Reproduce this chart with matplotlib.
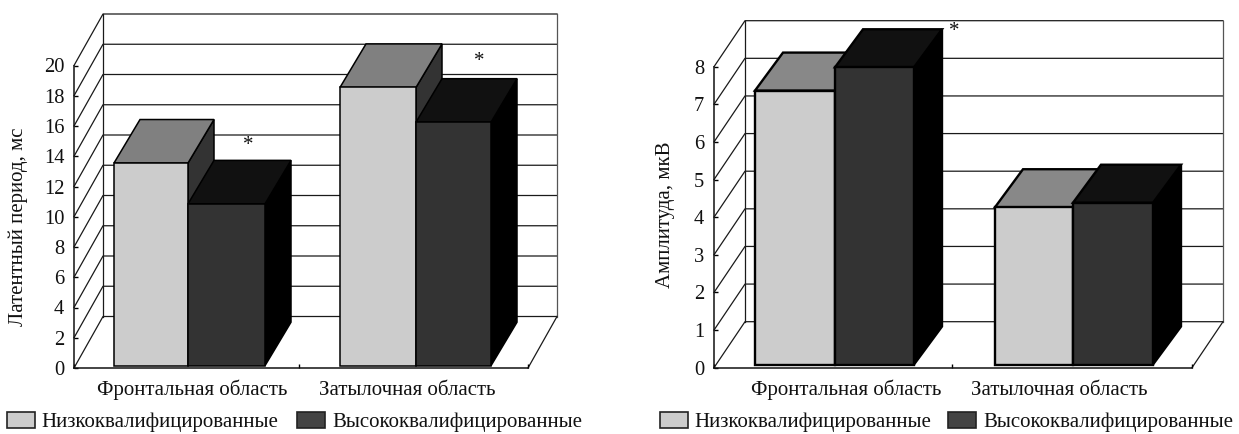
import matplotlib
matplotlib.use("Agg")
import matplotlib.pyplot as plt
from matplotlib.patches import Patch

W, H = 1239, 434
plt.rcParams['font.family'] = ['Liberation Serif', 'DejaVu Sans']

categories = ["Фронтальная область", "Затылочная область"]
series_names = ["Низкоквалифицированные", "Высококвалифицированные"]
latency_low = [13.4, 18.4]
latency_high = [10.7, 16.1]
amplitude_low = [7.28, 4.18]
amplitude_high = [7.9, 4.3]
latency_ticks = [0, 2, 4, 6, 8, 10, 12, 14, 16, 18, 20]
amplitude_ticks = [0, 1, 2, 3, 4, 5, 6, 7, 8]

FS = 15.0
TICK_FS = 14.8
LEG_FS = 15.0


def panel(left, right, y0, ymax_px, ymax, ticks, low, high, ylabel, ylabel_xy,
          wall, bar_x, bar_base_px, depth, sep, cat_x, stars, lw, top_grey,
          legend_xy, colspacing):
    back_dx, back_dy_px = wall
    top_px = ymax_px - back_dy_px
    ax = fig.add_axes([left / W, 1 - y0 / H, (right + back_dx - left) / W, (y0 - top_px) / H])
    ax.patch.set_alpha(0)
    scale = (y0 - ymax_px) / ymax
    ax.set_xlim(left, right + back_dx)
    ax.set_ylim(0, (y0 - top_px) / scale)
    back_dy = back_dy_px / scale

    # walls
    wall_c = '#1a1a1a'
    for v in ticks:
        ax.plot([left, left + back_dx, right + back_dx],
                [v, v + back_dy, v + back_dy], color=wall_c, lw=0.9, zorder=1, clip_on=False)
    ax.plot([left + back_dx] * 2, [back_dy, ymax + back_dy], color=wall_c, lw=0.9, zorder=1, clip_on=False)
    ax.plot([right + back_dx] * 2, [back_dy, ymax + back_dy], color='#555555', lw=0.9, zorder=1, clip_on=False)
    ax.plot([right, right + back_dx], [0, back_dy], color=wall_c, lw=0.9, zorder=1, clip_on=False)

    # bars
    base = (y0 - bar_base_px) / scale
    ddx, ddy_px = depth
    ddy = ddy_px / scale
    for i in range(len(low)):
        for vals, x0, x1, front, top_c, side_c, z in (
                (low, bar_x[i][0], bar_x[i][1], '#cccccc', top_grey, '#333333', 3 + i),
                (high, bar_x[i][1], bar_x[i][2], '#333333', '#111111', '#000000', 3.5 + i)):
            v = vals[i]
            ax.bar(x0, v, x1 - x0, bottom=base, align='edge', color=front,
                   edgecolor='black', lw=lw, zorder=z + 0.2, clip_on=False)
            t = base + v
            ax.fill([x0, x0 + ddx, x1 + ddx, x1], [t, t + ddy, t + ddy, t],
                    fc=top_c, ec='black', lw=lw, zorder=z + 0.1, clip_on=False)
            ax.fill([x1, x1 + ddx, x1 + ddx, x1], [base, base + ddy, t + ddy, t],
                    fc=side_c, ec='black', lw=lw, zorder=z, clip_on=False)

    # axes
    for s in ('top', 'right'):
        ax.spines[s].set_visible(False)
    ax.spines['left'].set_bounds(0, ymax)
    ax.spines['bottom'].set_bounds(left, right)
    for s in ('left', 'bottom'):
        ax.spines[s].set_linewidth(1.1)
        ax.spines[s].set_color('#111111')
        ax.spines[s].set_zorder(8)
    ax.set_yticks(ticks)
    ax.set_yticklabels([str(t) for t in ticks], fontsize=TICK_FS, color='#111111')
    ax.tick_params(axis='y', direction='in', length=3, width=1, pad=7)
    ax.set_xticks([left, sep, right])
    ax.set_xticklabels([])
    ax.tick_params(axis='x', which='major', direction='in', length=3, width=1)
    ax.set_xticks(cat_x, minor=True)
    ax.set_xticklabels(categories, minor=True, fontsize=FS, color='#111111', va='baseline')
    ax.tick_params(axis='x', which='minor', length=0, pad=19.5)

    fig.text(ylabel_xy[0] / W, 1 - ylabel_xy[1] / H, ylabel, rotation=90, ha='center',
             va='center', fontsize=FS, color='#111111')

    for (sx, sy) in stars:
        fig.text(sx / W, 1 - sy / H, '*', ha='center', va='center', fontsize=FS, color='#111111')

    handles = [Patch(fc='#cccccc', ec='#222222', lw=1.2), Patch(fc='#444444', ec='#222222', lw=1.2)]
    fig.legend(handles, series_names, ncol=2, loc='lower left',
               bbox_to_anchor=(legend_xy[0] / W, 1 - legend_xy[1] / H), frameon=False,
               fontsize=LEG_FS, borderpad=0, borderaxespad=0, handlelength=1.34,
               handleheight=0.82, handletextpad=0.33, columnspacing=colspacing, labelcolor='#111111')


fig = plt.figure(figsize=(W / 100, H / 100), dpi=100, facecolor='white')

panel(74, 528, 368, 65.5, 20, latency_ticks, latency_low, latency_high,
      "Латентный период, мс", (18, 227), (29, 51.5),
      [(114, 188, 265), (340, 416, 491)], 365.7, (26, 43.5), 299, (192, 407),
      [(248, 146), (479, 62)], 1.1, '#808080', (7, 432), 0.9)

panel(714, 1192, 367.7, 66.7, 8, amplitude_ticks, amplitude_low, amplitude_high,
      "Амплитуда, мкВ", (665, 215), (31, 46),
      [(755, 835, 914), (995, 1073, 1153)], 364.5, (28, 38), 952, (846, 1059),
      [(954, 31)], 1.7, '#888888', (660, 432), 0.8)

fig.savefig('out.png', dpi=100, facecolor='white')
